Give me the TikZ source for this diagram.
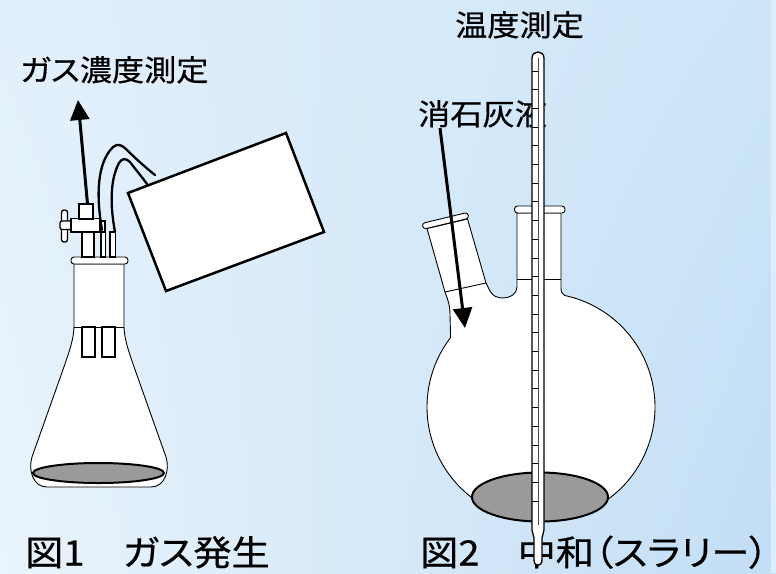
\documentclass[tikz,border=0pt]{standalone}
\usepackage{fontspec}
\newfontfamily\jpfont[RawFeature=+palt, FakeStretch=1.09, FakeBold=0.5]{Noto Sans CJK JP}
\usetikzlibrary{arrows.meta,shadings}
\definecolor{bgUL}{HTML}{E2F0FB}
\definecolor{bgUR}{HTML}{CCE5F8}
\definecolor{bgLL}{HTML}{E9F4FC}
\definecolor{bgLR}{HTML}{C2DEF5}
\definecolor{bgStrip}{HTML}{DCEEFB}
\definecolor{liqgray}{HTML}{9A9A9A}
\definecolor{capline}{HTML}{4A4A4A}
\begin{document}
\begin{tikzpicture}[x=1pt,y=-1pt,
  glass/.style={draw=black,line width=0.9pt,fill=white,line join=round},
  part/.style={draw=black,line width=1.3pt,fill=white},
  liquid/.style={draw=black,line width=2pt,fill=liqgray},
  tube/.style={draw=black,line width=1.8pt,fill=white},
  hose/.style={draw=black,line width=2.3pt,line cap=round},
  crate/.style={draw=black,line width=2.5pt,fill=white,line join=miter},
  ptr/.style={draw=black,line width=3pt,-{Triangle[length=20pt,width=19pt]}},
  lbl/.style={font=\jpfont\fontsize{29.5}{36}\selectfont,inner sep=0pt,anchor=base west},
  figcaption/.style={font=\jpfont\fontsize{35}{42}\selectfont,inner sep=0pt,anchor=base west}]

% page and background
\useasboundingbox (0,0) rectangle (776,573);
\shade[lower left=bgLL, upper left=bgUL, upper right=bgUR, lower right=bgLR]
  (0,0) rectangle (776,573);
\fill[bgStrip] (771,0) rectangle (776,573);

% ---------- Fig. 1: Erlenmeyer flask with stopcock ----------
\path[glass] (74,264) -- (74,327) .. controls (73.5,340) and (69,352) .. (65,364)
  -- (32,457) .. controls (28,470) and (33,487) .. (47,487) -- (151,487)
  .. controls (165,487) and (170,470) .. (166,457) -- (133,364)
  .. controls (129,352) and (124.5,340) .. (124,327) -- (124,264) -- cycle;
\draw[line width=0.9pt] (74,327) -- (124,327);
\path[liquid] (98.5,473) ellipse [x radius=65.5pt, y radius=10pt];
\path[tube] (82,327) rectangle (95,357);
\path[tube] (102,327) rectangle (115,357);
\path[glass, rounded corners=3pt] (71,257) rectangle (128,264);
% tubes through the stopper
\path[tube] (82,232) rectangle (94,257);
\path[tube] (101,232) rectangle (105.5,257);
\path[tube] (110,232) rectangle (115.5,257);
% stopcock
\path[part, rounded corners=2.5pt] (61.5,210) rectangle (67.5,242);
\path[part, rounded corners=2pt] (60,221) rectangle (72,229.5);
\path[part] (71,218.5) rectangle (100,232);
\path[part] (100,221) rectangle (105,232);
\path[part] (79,204) rectangle (93,219);
% hoses
\draw[hose] (102,230) .. controls (96,195) and (97,163) .. (113,147)
  .. controls (118,143) and (122,145) .. (127,150)
  .. controls (135,158) and (145,167) .. (155,175);
\draw[hose] (115,232) .. controls (110,205) and (110,180) .. (119,163)
  .. controls (122,158) and (126,158) .. (130,162)
  .. controls (136,170) and (142,177) .. (147,184);
% tilted container
\path[crate] (128,193) -- (286,133) -- (324,232) -- (166,291) -- cycle;

% gas outlet arrow and label
\node[lbl] (gaslabel) at (20,81) {ガス濃度測定};
\coordinate (cocktop) at (87.5,204);
\coordinate (gastip) at (78,100);
\draw[ptr] (cocktop) -- (gastip);

% ---------- Fig. 2: two-neck round-bottom flask ----------
\path[glass] (561,213) -- (561,288) .. controls (561,292) and (562,294) .. (564.7,295.5)
  -- plot[domain=-78:217.5, samples=120, smooth] ({541+114*cos(\x)}, {407+114*sin(\x)})
  -- (450.5,333) -- (450,315) .. controls (450,305) and (448,300) .. (445,292)
  -- (427,228.5) -- (467.5,219) -- (486,283) -- (488,287)
  .. controls (492,297) and (498,298) .. (503,298)
  .. controls (510,298) and (517,294) .. (517,287) -- (517,213) -- cycle;
\draw[line width=0.9pt] (445,292) -- (486,283);
\draw[line width=0.9pt] (517,279) -- (561,279);
\path[glass, rounded corners=3pt] (514.5,206) rectangle (565,213);
\begin{scope}[shift={(445.5,220.8)}, rotate=13.5]
  \path[glass, rounded corners=3pt] (-23.5,-3) rectangle (23.5,3);
\end{scope}
\path[liquid] (540,497) ellipse [x radius=68pt, y radius=24.5pt];

% lime slurry arrow and labels
\node[lbl] (templabel) at (455,36) {温度測定};
\node[lbl] (limelabel) at (418,125) {消石灰液};
\coordinate (limestart) at (440,128);
\coordinate (limetip) at (465,328);
\draw[ptr] (limestart) -- (limetip);

% captions
\node[figcaption] (cap1) at (25,565.5) {図1　ガス発生};
\node[figcaption] (cap2) at (420,565.5) {図2　中和（スラリー）};

% thermometer, in front of everything
\path[draw=black, line width=1.3pt, fill=white]
  (532,58) .. controls (532,50) and (544,50) .. (544,58) -- (544,530)
  -- (542,538) -- (542,560) .. controls (542,567) and (534,567) .. (534,560)
  -- (534,538) -- (532,530) -- cycle;
\draw[capline, line width=1pt] (538,58) -- (538,525);
\foreach \k in {0,...,23}
  \draw[black, line width=0.9pt] (532,{71+18.7*\k}) -- (538,{71+18.7*\k});
\end{tikzpicture}
\end{document}
